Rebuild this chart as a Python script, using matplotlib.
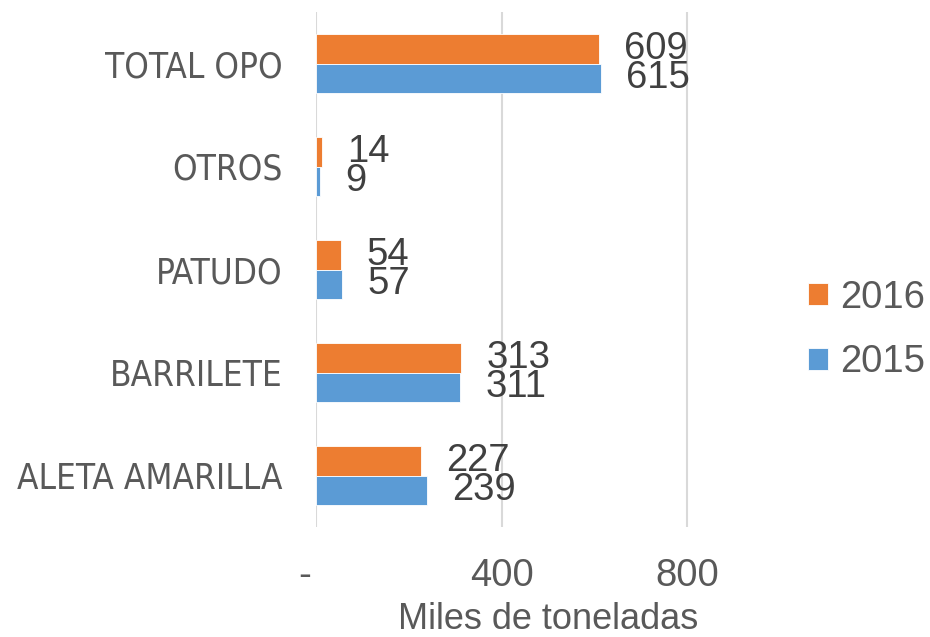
import matplotlib.pyplot as plt
from matplotlib import font_manager as fm
import numpy as np

# data (miles de toneladas)
categories = ["ALETA AMARILLA", "BARRILETE", "PATUDO", "OTROS", "TOTAL OPO"]
values_2016 = [227, 313, 54, 14, 609]
values_2015 = [239, 311, 57, 9, 615]
x_ticks = [0, 400, 800]
x_tick_labels = ["-  ", "400", "800"]

ORANGE = "#ED7D31"
BLUE = "#5B9BD5"
TEXT = "#595959"
LABEL = "#404040"
FS = 27.5


def regular(f):
    return f.style == "normal" and f.weight in (400, "normal", "regular", "book")


# category labels in the reference use a condensed face; pick one if installed
cat_file = None
for want in ("Liberation Sans Narrow", "DejaVu Sans"):
    for f in fm.fontManager.ttflist:
        if f.name == want and regular(f) and ("Narrow" in f.name or "Condensed" in f.fname):
            cat_file = f.fname
            break
    if cat_file:
        break
if cat_file:
    cat_font = fm.FontProperties(fname=cat_file, size=FS)
else:
    cat_font = fm.FontProperties(family="Liberation Sans", size=FS)

fig = plt.figure(figsize=(9.3, 6.37), dpi=100)
ax = fig.add_axes([316 / 930, 1 - 527 / 637, (780 - 316) / 930, (527 - 12) / 637])

y = np.arange(len(categories))
h = 0.285
b16 = ax.barh(y + h / 2, values_2016, height=h, color=ORANGE, edgecolor="white", linewidth=0.6, label="2016", zorder=3)
b15 = ax.barh(y - h / 2, values_2015, height=h, color=BLUE, edgecolor="white", linewidth=0.6, label="2015", zorder=3)

for bars, vals in ((b16, values_2016), (b15, values_2015)):
    for bar, v in zip(bars, vals):
        ax.annotate(str(v), (bar.get_width(), bar.get_y() + bar.get_height() / 2),
                    xytext=(18, 0), textcoords="offset points", ha="left", va="center",
                    fontsize=FS, color=LABEL, family="Liberation Sans")

ax.set_xlim(0, 1000)
ax.set_ylim(-0.5, len(categories) - 0.5)
ax.set_xticks(x_ticks)
ax.set_xticklabels(x_tick_labels, fontsize=FS, color=TEXT, family="Liberation Sans")
ax.set_yticks(y)
ylabels = ax.set_yticklabels(categories, color=TEXT, fontproperties=cat_font)
ax.tick_params(axis="x", length=0, pad=22)
ax.tick_params(axis="y", length=0, pad=24)
ax.set_xlabel("Miles de toneladas", fontsize=26, color=TEXT, family="Liberation Sans", labelpad=6)

# shrink the category labels so the longest one spans about as wide as in the reference
fig.canvas.draw()
w = ylabels[0].get_window_extent().width
if w > 265:
    for lab in ylabels:
        lab.set_fontsize(FS * 265 / w)

ax.grid(axis="x", color="#D9D9D9", linewidth=1.5, zorder=0)
for s in ax.spines.values():
    s.set_visible(False)

leg = fig.legend(handles=[b16, b15], loc="center left", bbox_to_anchor=(808 / 930, 1 - 330 / 637),
                 frameon=False, prop={"family": "Liberation Sans", "size": FS},
                 borderpad=0, borderaxespad=0,
                 handlelength=0.53, handleheight=0.53, handletextpad=0.3, labelspacing=0.75)
for t in leg.get_texts():
    t.set_color(TEXT)

fig.savefig("out.png", dpi=100)
